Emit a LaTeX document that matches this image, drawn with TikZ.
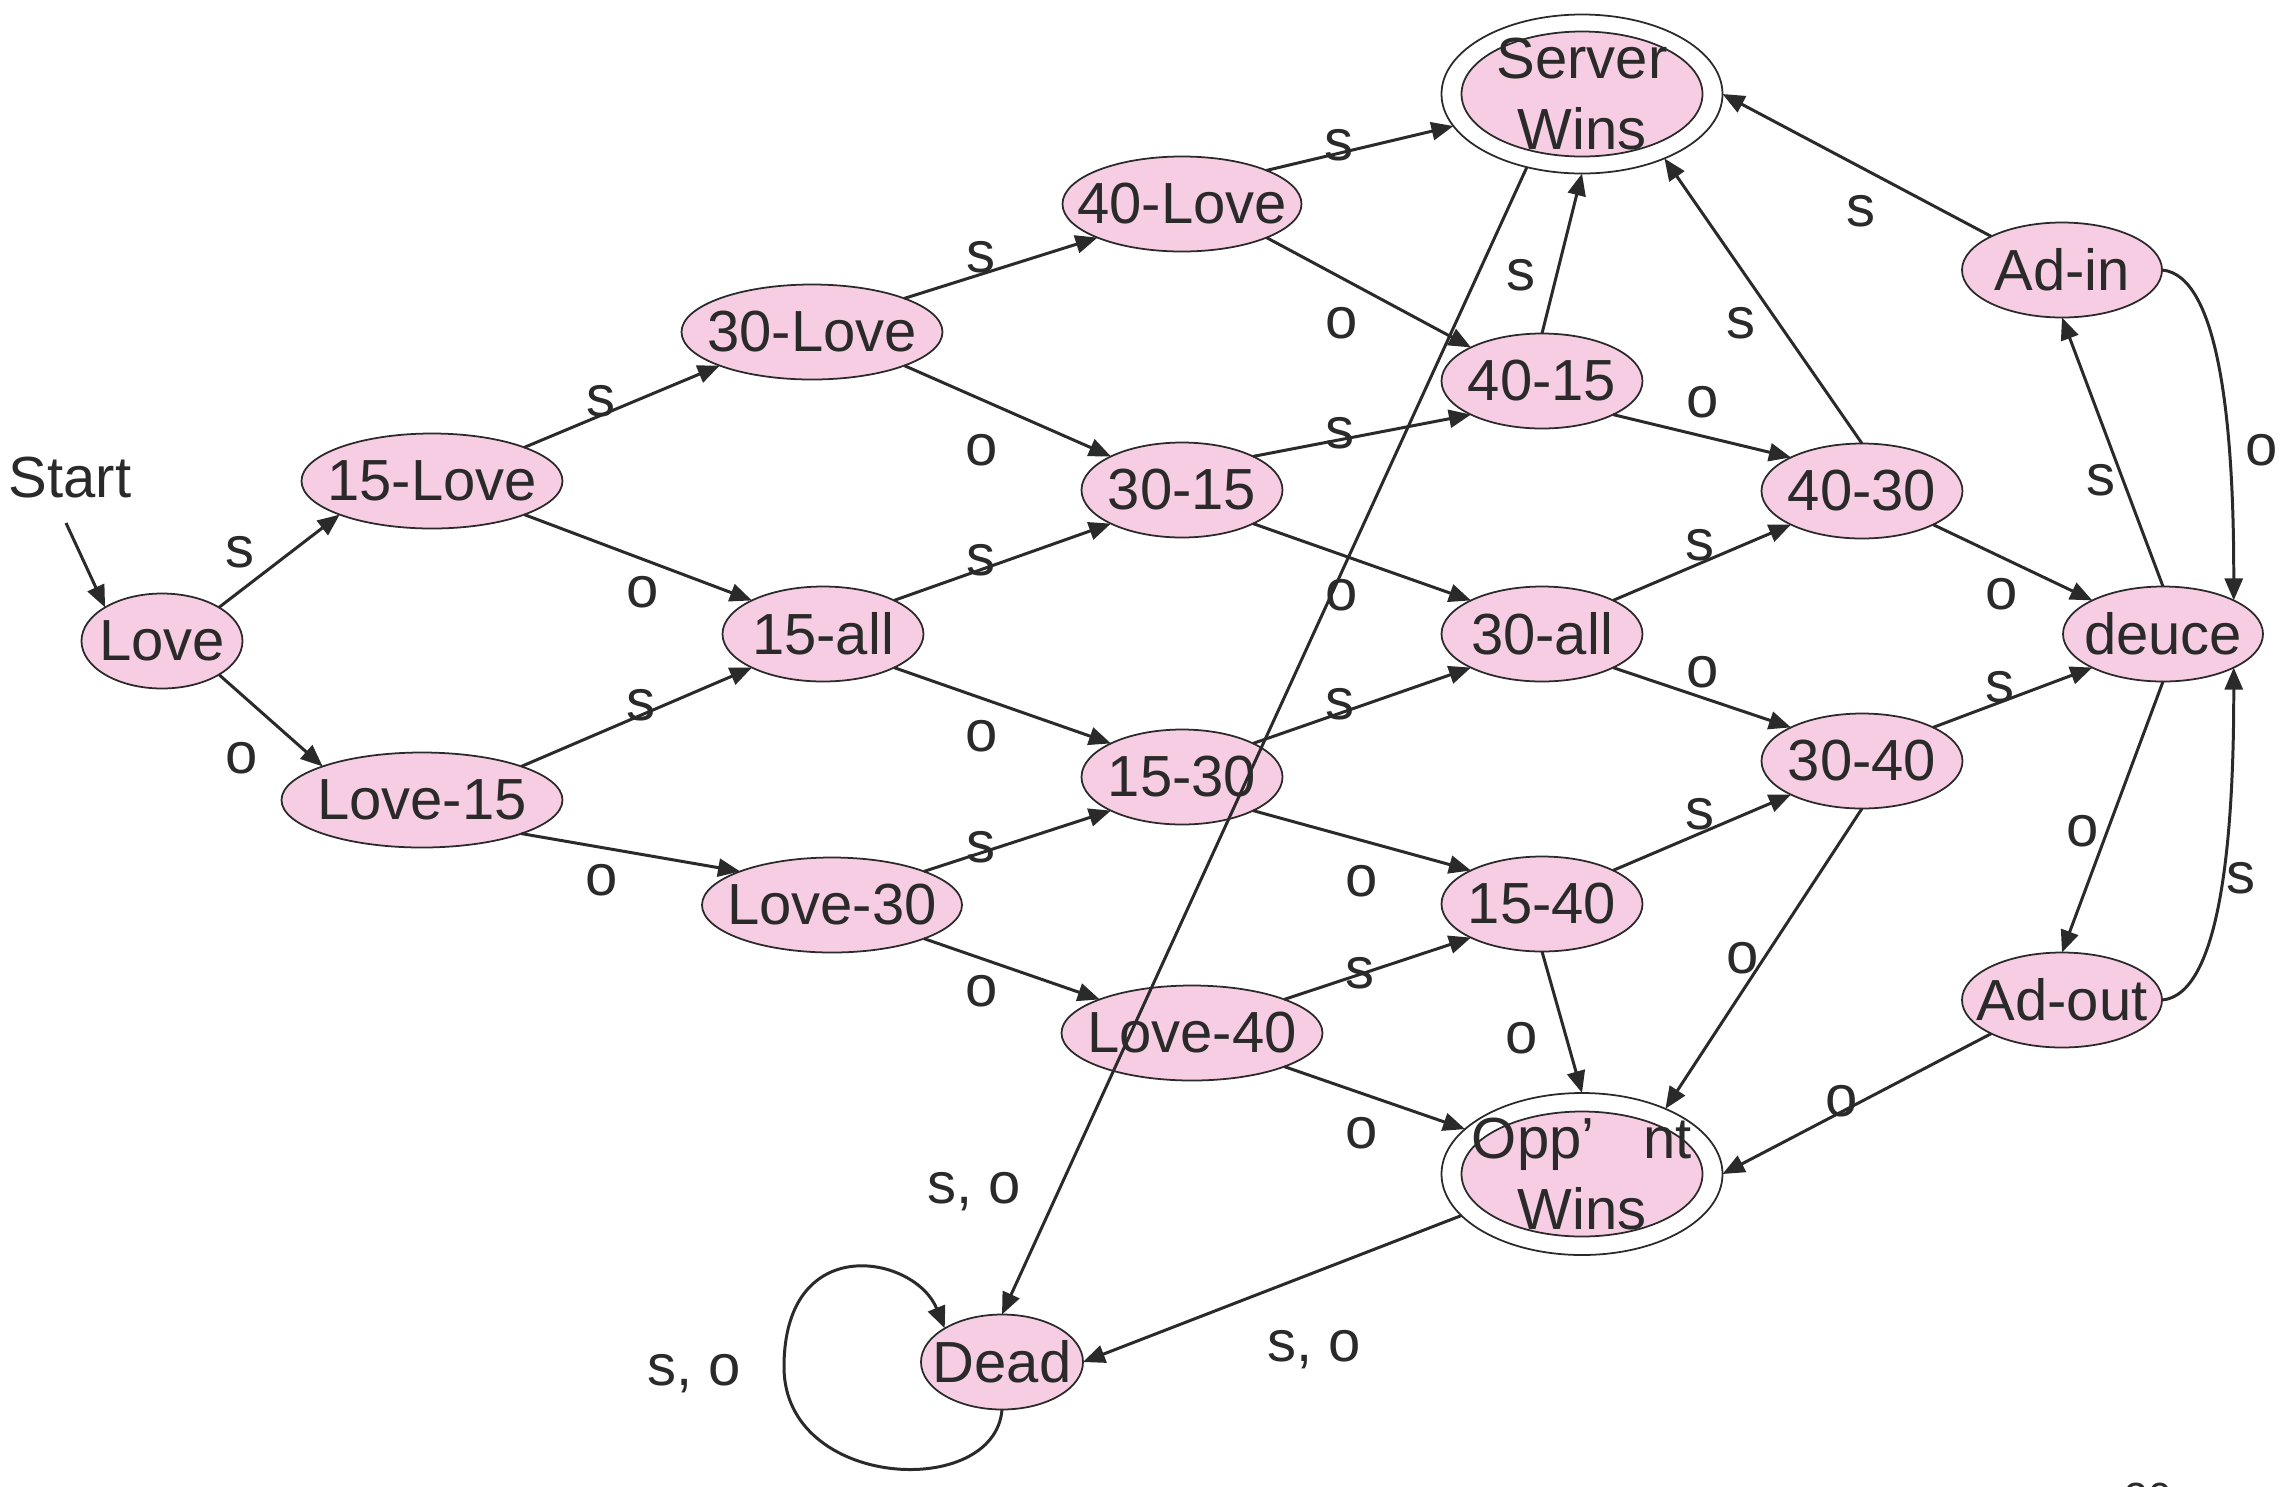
\documentclass[tikz,border=0pt]{standalone}
\usepackage{fontspec}
\setmainfont{Liberation Sans}
\usetikzlibrary{shapes.geometric, arrows.meta}

\definecolor{pinkfill}{RGB}{247,205,227}
\definecolor{ink}{RGB}{42,42,42}

\tikzset{
    state/.style={ellipse, draw=ink, line width=0.5pt, fill=pinkfill, text=ink,
        inner sep=-0.5cm, outer sep=0pt, minimum height=0.95cm, minimum width=#1},
    state/.default=2.01cm,
    ring/.style={ellipse, draw=ink, line width=0.5pt, inner sep=-0.5cm, outer sep=0pt,
        minimum width=2.81cm, minimum height=1.59cm},
    arr/.style={-{Triangle[length=2.2mm,width=1.8mm]}, line width=0.85pt, draw=ink},
    lbl/.style={inner sep=0pt, text height=8.6pt, text depth=0pt, text=ink},
}

\begin{document}
\begin{tikzpicture}[every node/.style={font=\fontsize{16.5}{20}\selectfont}]
        %page size of the slide picture
        \useasboundingbox (0,0) rectangle (22.94,-14.86);
        \clip (0,0) rectangle (22.94,-14.86);

        \node[anchor=base, inner sep=0pt, text=ink] (Start) at (0.70,-4.97) {Start};
        \coordinate (S0) at (0.66,-5.23);

        % score states
        \node[state=1.61cm] (L00) at (1.62,-6.41) {Love};
        \node[state=2.61cm] (L10) at (4.32,-4.81) {15-Love};
        \node[state=2.81cm] (L01) at (4.22,-8.00) {Love-15};
        \node[state=2.61cm] (L20) at (8.12,-3.32) {30-Love};
        \node[state] (L11) at (8.23,-6.34) {15-all};
        \node[state=2.60cm] (L02) at (8.32,-9.05) {Love-30};
        \node[state=2.39cm] (L30) at (11.82,-2.04) {40-Love};
        \node[state] (L21) at (11.82,-4.90) {30-15};
        \node[state] (L12) at (11.82,-7.77) {15-30};
        \node[state=2.61cm] (L03) at (11.92,-10.33) {Love-40};
        \node[state] (L31) at (15.42,-3.81) {40-15};
        \node[state] (L22) at (15.42,-6.34) {30-all};
        \node[state] (L13) at (15.42,-9.04) {15-40};
        \node[state] (L32) at (18.62,-4.91) {40-30};
        \node[state] (L23) at (18.62,-7.61) {30-40};
        \node[state=2.00cm] (Ain) at (20.62,-2.70) {Ad-in};
        \node[state=2.00cm] (Deu) at (21.63,-6.34) {deuce};
        \node[state=2.00cm] (Aout) at (20.62,-10.00) {Ad-out};
        \node[state=1.62cm] (Dead) at (10.02,-13.62) {Dead};

        % final states
        \node[ring] (Win) at (15.82,-0.94) {};
        \node[state=2.41cm, minimum height=1.25cm, align=center] (WinIn) at (Win) {Server\\Wins};
        \node[ring, minimum height=1.62cm] (Lose) at (15.82,-11.74) {};
        \node[state=2.41cm, minimum height=1.25cm, align=center] (LoseIn) at (Lose) {Opp’\hspace{0.85em}nt\\Wins};

        \draw[arr] (S0) -- (L00.north west);

        \foreach \a/\b in
        {L00.north east/L10.south west, L00.south east/L01.north west,
         L10.north east/L20.south west, L10.south east/L11.north west,
         L01.north east/L11.south west, L01.south east/L02.north west,
         L20.north east/L30.south west, L20.south east/L21.north west,
         L11.north east/L21.south west, L11.south east/L12.north west,
         L02.north east/L12.south west, L02.south east/L03.north west,
         L30.north east/Win.194, L30.south east/L31.north west,
         L21.north east/L31.south west, L21.south east/L22.north west,
         L12.north east/L22.south west, L12.south east/L13.north west,
         L03.north east/L13.south west, L03.south east/Lose.159,
         L31.north/Win.south, L31.south east/L32.north west,
         L22.north east/L32.south west, L22.south east/L23.north west,
         L13.north east/L23.south west, L13.south/Lose.north,
         L32.north/Win.322, L32.south east/Deu.north west,
         L23.north east/Deu.south west, L23.south/Lose.38,
         Ain.north west/Win.east, Deu.north/Ain.south,
         Deu.south/Aout.north, Aout.south west/Lose.east,
         Win.233/Dead.north, Lose.199/Dead.east}
        {
            \draw[arr] (\a) -- (\b);
        };

        \draw[arr] (Ain.east) .. controls (22.2,-2.75) and (22.34,-4.3) .. (Deu.north east);
        \draw[arr] (Aout.east) .. controls (22.2,-9.95) and (22.34,-8.4) .. (Deu.south east);
        \draw[arr] (Dead.south) .. controls (9.95,-15.0) and (7.84,-14.9) .. (7.84,-13.67)
            .. controls (7.84,-12.3) and (9.15,-12.55) .. (Dead.north west);

        % edge labels
        \foreach \t/\p in
        {s/{2.40,-5.52}, o/{2.42,-7.58}, s/{6.01,-4.01}, o/{6.43,-5.92},
         s/{6.41,-7.05}, o/{6.02,-8.80}, s/{9.81,-2.57}, o/{9.82,-4.50},
         s/{9.81,-5.60}, o/{9.82,-7.36}, s/{9.81,-8.47}, o/{9.82,-9.91},
         s/{13.39,-1.45}, o/{13.42,-3.23}, s/{13.40,-4.33}, o/{13.42,-5.95},
         s/{13.40,-7.04}, o/{13.62,-8.81}, s/{13.60,-9.73}, o/{13.62,-11.33},
         s/{15.21,-2.75}, o/{17.03,-4.02}, s/{17.00,-5.45}, o/{17.03,-6.72},
         s/{17.00,-8.14}, o/{15.22,-10.38}, s/{17.41,-3.23}, o/{20.02,-5.94},
         s/{20.00,-6.87}, o/{17.43,-9.58}, s/{18.61,-2.11}, s/{21.01,-4.80},
         o/{22.62,-4.50}, o/{20.83,-8.31}, s/{22.41,-8.78}, o/{18.42,-11.01},
         {s, o}/{9.74,-11.88}, {s, o}/{13.14,-13.46}, {s, o}/{6.94,-13.70}}
        {
            \node[lbl] at (\p) {\t};
        };

        \node[anchor=north, inner sep=0pt, text=ink, font=\fontsize{12}{14}\selectfont] (pg) at (21.48,-14.82) {20};
\end{tikzpicture}
\end{document}
